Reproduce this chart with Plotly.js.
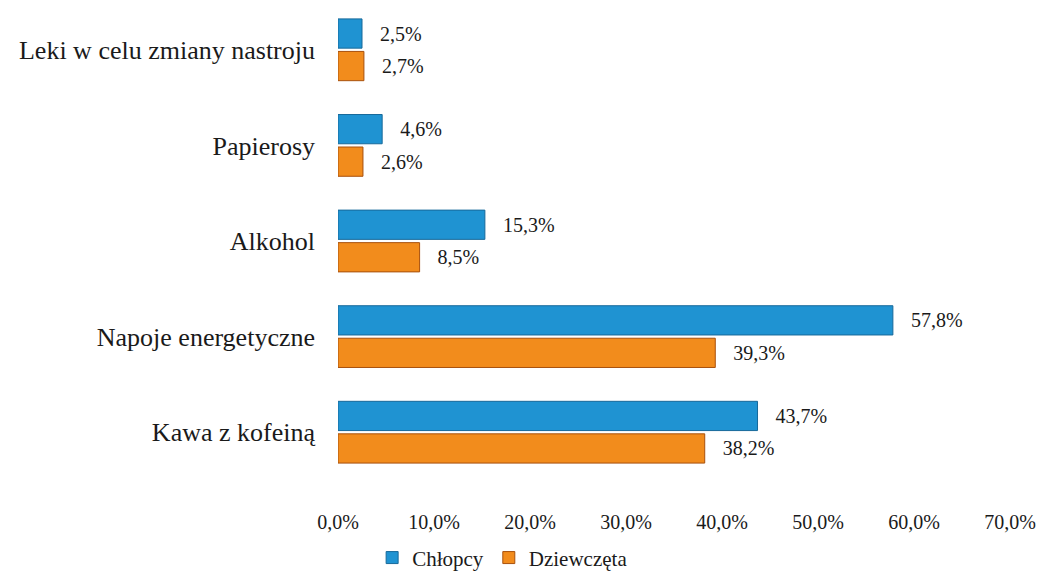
<!DOCTYPE html>
<html><head><meta charset="utf-8">
<script src="https://cdn.plot.ly/plotly-3.0.1.min.js"></script>
<style>html,body{margin:0;padding:0;background:#fff}#c{width:1047px;height:574px}</style>
</head><body><div id="c"></div>
<script>
const categories = ["Kawa z kofeiną", "Napoje energetyczne", "Alkohol", "Papierosy", "Leki w celu zmiany nastroju"];
const chlopcy = [43.7, 57.8, 15.3, 4.6, 2.5];
const dziewczeta = [38.2, 39.3, 8.5, 2.6, 2.7];
const seriesNames = ["Chłopcy", "Dziewczęta"];

const fam = "Liberation Serif, Times New Roman, serif";
const font = {family: fam, color: "#1a1a1a", size: 20};
const traces = [
  {type: "bar", orientation: "h", name: seriesNames[1], y: categories, x: dziewczeta,
   marker: {color: "#f28c1c", line: {color: "#a8500c", width: 1}},
   texttemplate: "\u00a0\u00a0\u00a0%{x:.1f}%", textposition: "outside", cliponaxis: false,
   textfont: font, legendrank: 2},
  {type: "bar", orientation: "h", name: seriesNames[0], y: categories, x: chlopcy,
   marker: {color: "#1f93d2", line: {color: "#17699a", width: 1}},
   texttemplate: "\u00a0\u00a0\u00a0%{x:.1f}%", textposition: "outside", cliponaxis: false,
   textfont: font, legendrank: 1}
];
const layout = {
  width: 1047, height: 574,
  margin: {l: 338, r: 37, t: 2, b: 94},
  separators: ", ",
  barmode: "group", bargap: 0.32, bargroupgap: 0.1,
  paper_bgcolor: "#fff", plot_bgcolor: "#fff",
  font: font,
  xaxis: {range: [0, 70], dtick: 10, tickformat: ".1f", ticksuffix: "%", automargin: false,
          showgrid: false, zeroline: false, showline: false, ticks: "",
          ticklabelstandoff: 28, tickfont: {family: fam, size: 20, color: "#1a1a1a"}},
  yaxis: {type: "category", showgrid: false, zeroline: false, showline: false, automargin: false,
          ticks: "", ticklabelstandoff: 22, tickfont: {family: fam, size: 26, color: "#1a1a1a"}},
  showlegend: true,
  legend: {orientation: "h", x: 0.245, xanchor: "center", yref: "container", y: 0.028, yanchor: "middle",
           font: {family: fam, size: 21, color: "#1a1a1a"}, itemwidth: 30, tracegroupgap: 0,
           bgcolor: "rgba(0,0,0,0)"}
};
Plotly.newPlot("c", traces, layout, {displayModeBar: false, staticPlot: true});
</script></body></html>
